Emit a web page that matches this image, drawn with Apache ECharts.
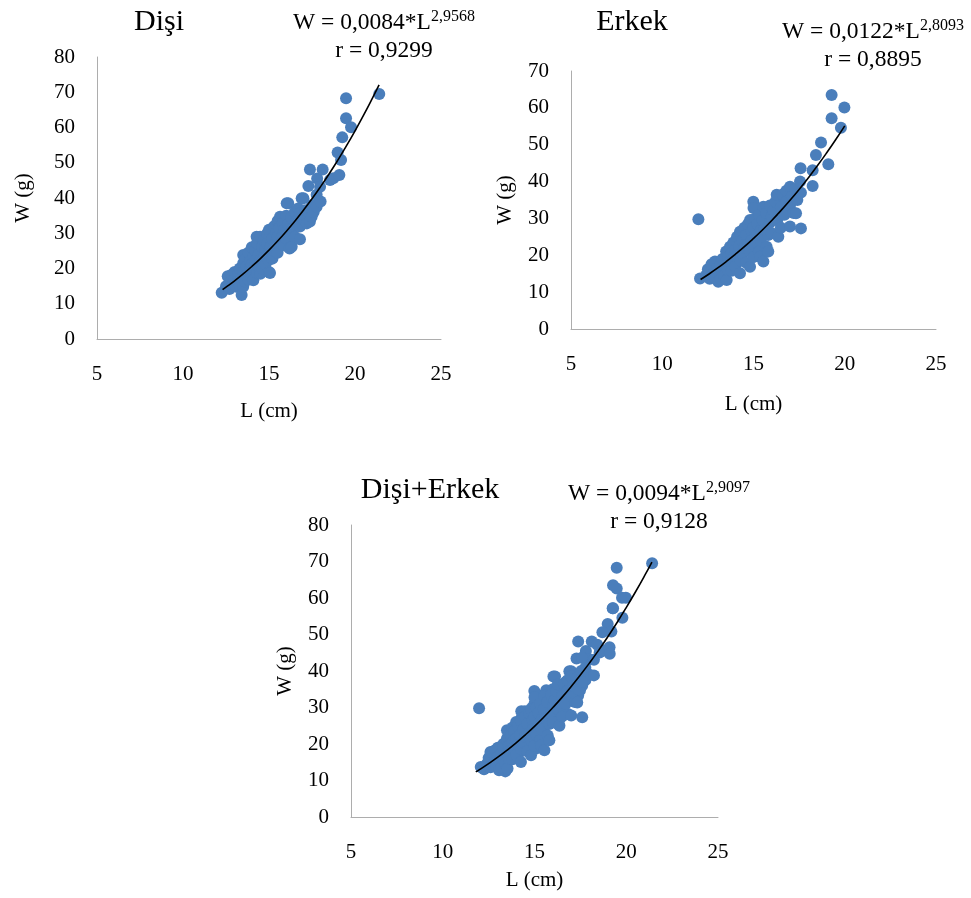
<!DOCTYPE html>
<html>
<head>
<meta charset="utf-8">
<script src="https://cdn.jsdelivr.net/npm/echarts@6/dist/echarts.min.js"></script>
<style>
html,body{margin:0;padding:0;background:#fff;}
#chart{width:971px;height:898px;}
</style>
</head>
<body>
<div id="chart"></div>
<script>
// ---- Data ----
const panelTitles = ['Dişi', 'Erkek', 'Dişi+Erkek'];
const eqMain = ['W = 0,0084*L', 'W = 0,0122*L', 'W = 0,0094*L'];
const eqExp = ['2,9568', '2,8093', '2,9097'];
const eqR = ['r = 0,9299', 'r = 0,8895', 'r = 0,9128'];
const xAxisName = 'L (cm)';
const yAxisName = 'W (g)';
const xMin = 5, xMax = 25, xStep = 5;
const yMaxes = [80, 70, 80];
const yStep = 10;

// Female (Dişi) observations
const femaleL = [12.25,12.5,12.6,12.7,12.8,12.83,12.9,13.0,13.0,13.1,
  13.2,13.2,13.3,13.3,13.41,13.4,13.5,13.5,13.5,13.5,13.6,13.6,
  13.7,13.7,13.8,13.8,13.9,13.9,14.0,14.0,14.0,14.1,14.09,14.1,
  14.2,14.28,14.2,14.3,14.3,14.4,14.4,14.48,14.5,14.5,14.6,14.6,
  14.7,14.7,14.8,14.8,14.9,14.9,14.96,15.0,15.0,15.06,15.0,15.1,
  15.2,15.2,15.3,15.3,15.4,15.4,15.5,15.5,15.5,
  15.64,15.6,15.7,15.8,15.8,15.9,15.9,16.0,16.03,16.0,
  16.12,16.1,16.2,16.2,16.32,16.3,16.4,16.5,16.5,
  16.6,16.7,16.8,16.8,16.8,16.9,17.0,17.0,
  17.1,17.2,17.29,17.38,17.38,17.48,17.5,17.6,17.77,17.77,17.8,17.97,18.0,18.12,
  18.55,18.74,18.99,19.09,19.19,19.26,19.48,19.48,19.77,21.41];
const femaleW = [13.1,15.0,17.8,14.2,16.5,18.2,15.6,17.0,19.0,14.8,
  16.0,18.5,20.0,15.2,12.5,17.2,23.8,21.5,19.0,14.8,16.4,22.4,
  18.0,20.6,24.5,16.8,22.0,19.4,26.0,17.5,21.2,23.5,16.7,19.8,
  25.0,29.0,22.2,18.8,27.2,20.6,24.0,29.0,22.5,18.5,26.2,20.0,
  28.0,23.2,25.5,21.2,30.0,27.0,22.4,24.0,19.0,18.7,31.0,26.2,
  28.5,22.8,32.0,25.0,30.0,27.0,33.5,24.5,29.0,
  34.7,31.5,27.0,29.5,33.0,26.5,31.0,35.0,38.5,28.5,
  38.5,32.5,25.7,30.0,26.2,34.5,31.5,36.0,29.0,
  33.5,37.0,35.7,31.9,28.3,39.9,34.0,39.9,
  36.5,32.8,43.4,48.1,33.3,34.7,38.0,36.0,40.9,37.5,45.5,43.2,39.0,48.1,
  45.1,45.6,52.9,46.5,50.8,57.2,62.6,68.3,60.1,69.5];

// Male (Erkek) observations
const maleL = [11.98,12.07,12.4,12.5,12.6,12.7,12.8,12.89,12.9,13.0,13.07,13.1,13.2,13.2,13.3,13.3,13.4,
  13.5,13.53,13.5,13.6,13.6,13.71,13.7,13.8,13.8,13.9,13.9,14.0,14.0,14.1,14.1,14.2,14.26,14.26,14.3,
  14.4,14.4,14.5,14.5,14.6,14.6,14.7,14.7,14.81,14.81,14.8,14.9,14.9,14.99,15.0,15.0,15.0,15.1,15.1,
  15.2,15.2,15.3,15.3,15.36,15.4,15.4,15.5,15.54,15.54,15.6,15.7,15.72,15.8,15.81,15.9,15.9,16.0,16.0,
  16.1,16.2,16.27,16.3,16.36,16.5,16.5,16.6,16.7,16.8,16.8,17.0,17.0,17.0,17.1,17.2,17.3,17.33,17.4,
  17.55,17.58,17.6,17.6,18.24,18.24,18.42,18.7,19.1,19.28,19.28,19.79,19.98];
const maleW = [29.8,13.7,14.5,16.2,13.6,17.6,15.0,18.3,13.8,16.5,12.8,15.4,17.5,13.6,19.0,15.9,14.5,
  21.0,13.3,17.5,19.5,16.0,22.3,18.3,20.5,15.8,23.5,19.0,21.5,17.0,25.0,19.8,22.5,26.4,15.1,18.5,
  24.0,20.5,27.5,22.0,25.5,18.0,28.5,23.0,29.6,16.9,21.0,26.5,24.0,34.5,32.8,27.5,19.5,30.0,22.5,
  25.5,28.5,31.0,21.0,19.6,26.8,24.0,29.5,33.2,18.3,27.0,31.5,22.3,25.5,21.0,33.5,28.8,30.5,26.0,
  32.0,34.5,36.4,29.5,25.0,33.0,27.5,36.5,31.0,37.5,34.5,38.6,27.8,33.5,36.0,31.5,38.0,31.4,35.0,
  40.0,43.6,27.3,37.0,43.1,38.8,47.2,50.6,44.7,63.5,57.2,54.6,60.1];

// Power trend lines
const femaleCurveL = [12.3,12.5,13,13.5,14,14.5,15,15.5,16,16.5,17,17.5,18,18.5,19,19.5,20,20.5,21,21.4];
const femaleCurveW = [14.02,14.71,16.52,18.47,20.57,22.81,25.22,27.79,30.52,33.43,36.52,39.78,43.24,46.88,50.73,54.78,59.04,63.51,68.20,72.1];
const maleCurveL = [12.1,12.5,13,13.5,14,14.5,15,15.5,16,16.5,17,17.5,18,18.5,19,19.5,20];
const maleCurveW = [13.43,14.72,16.43,18.27,20.24,22.33,24.57,26.94,29.45,32.11,34.92,37.88,41.00,44.28,47.73,51.34,55.12];
const allCurveL = [11.8,12,12.5,13,13.5,14,14.5,15,15.5,16,16.5,17,17.5,18,18.5,19,19.5,20,20.5,21,21.4];
const allCurveW = [12.36,12.98,14.62,16.38,18.28,20.32,22.51,24.84,27.33,29.98,32.78,35.76,38.91,42.23,45.73,49.42,53.30,57.38,61.65,66.12,69.86];

// ---- Build chart ----
const zip = (a, b) => a.map((v, i) => [v, b[i]]);
const pointSets = [
  zip(femaleL, femaleW),
  zip(maleL, maleW),
  zip(femaleL, femaleW).concat(zip(maleL, maleW))
];
const curveSets = [zip(femaleCurveL, femaleCurveW), zip(maleCurveL, maleCurveW), zip(allCurveL, allCurveW)];

const FONT = '"Liberation Serif", "Times New Roman", serif';
const grids = [
  {left: 97, top: 57, width: 344, height: 282},
  {left: 571, top: 71, width: 365, height: 258},
  {left: 351, top: 525, width: 367, height: 292}
];
const xNameGaps = [62, 65, 53];
const yNameGaps = [63, 55, 55];
const titlePos = [[159, 22], [632, 22], [430, 490]];
const eqPos = [[384, 37], [873, 46], [659, 508]];

const axisLineStyle = {show: true, lineStyle: {color: '#ADADAD', width: 1}};
const option = {
  animation: false,
  backgroundColor: '#ffffff',
  grid: grids.map(g => Object.assign({containLabel: false}, g)),
  xAxis: grids.map((g, i) => ({
    gridIndex: i, type: 'value', min: xMin, max: xMax, interval: xStep,
    name: xAxisName, nameLocation: 'middle', nameGap: xNameGaps[i],
    nameTextStyle: {fontFamily: FONT, fontSize: 21, color: '#000'},
    axisLine: axisLineStyle, axisTick: {show: false}, splitLine: {show: false},
    axisLabel: {fontFamily: FONT, fontSize: 21, color: '#000', margin: 25}
  })),
  yAxis: grids.map((g, i) => ({
    gridIndex: i, type: 'value', min: 0, max: yMaxes[i], interval: yStep,
    name: yAxisName, nameLocation: 'middle', nameGap: yNameGaps[i],
    nameTextStyle: {fontFamily: FONT, fontSize: 21, color: '#000'},
    axisLine: axisLineStyle, axisTick: {show: false}, splitLine: {show: false},
    axisLabel: {fontFamily: FONT, fontSize: 21, color: '#000', margin: 22}
  })),
  series: [],
  graphic: []
};
for (let i = 0; i < 3; i++) {
  option.series.push({
    type: 'scatter', xAxisIndex: i, yAxisIndex: i, data: pointSets[i],
    symbolSize: 12, itemStyle: {color: '#4A7EBB', opacity: 1}, z: 2
  });
  option.series.push({
    type: 'line', xAxisIndex: i, yAxisIndex: i, data: curveSets[i],
    smooth: true, showSymbol: false, lineStyle: {color: '#000', width: 1.6}, z: 3
  });
  option.graphic.push({
    type: 'text', x: titlePos[i][0], y: titlePos[i][1],
    style: {text: panelTitles[i], fontFamily: FONT, fontSize: 30, fill: '#000', align: 'center', verticalAlign: 'middle'}
  });
  option.graphic.push({
    type: 'text', x: eqPos[i][0], y: eqPos[i][1],
    style: {
      text: '{n|' + eqMain[i] + '}{s|' + eqExp[i] + '}\n{n|' + eqR[i] + '}',
      align: 'center', verticalAlign: 'middle', fill: '#000',
      rich: {
        n: {fontFamily: FONT, fontSize: 23.5, lineHeight: 28, fill: '#000'},
        s: {fontFamily: FONT, fontSize: 16, verticalAlign: 'top', fill: '#000'}
      }
    }
  });
}
const chart = echarts.init(document.getElementById('chart'), null, {renderer: 'canvas'});
chart.setOption(option);
</script>
</body>
</html>
